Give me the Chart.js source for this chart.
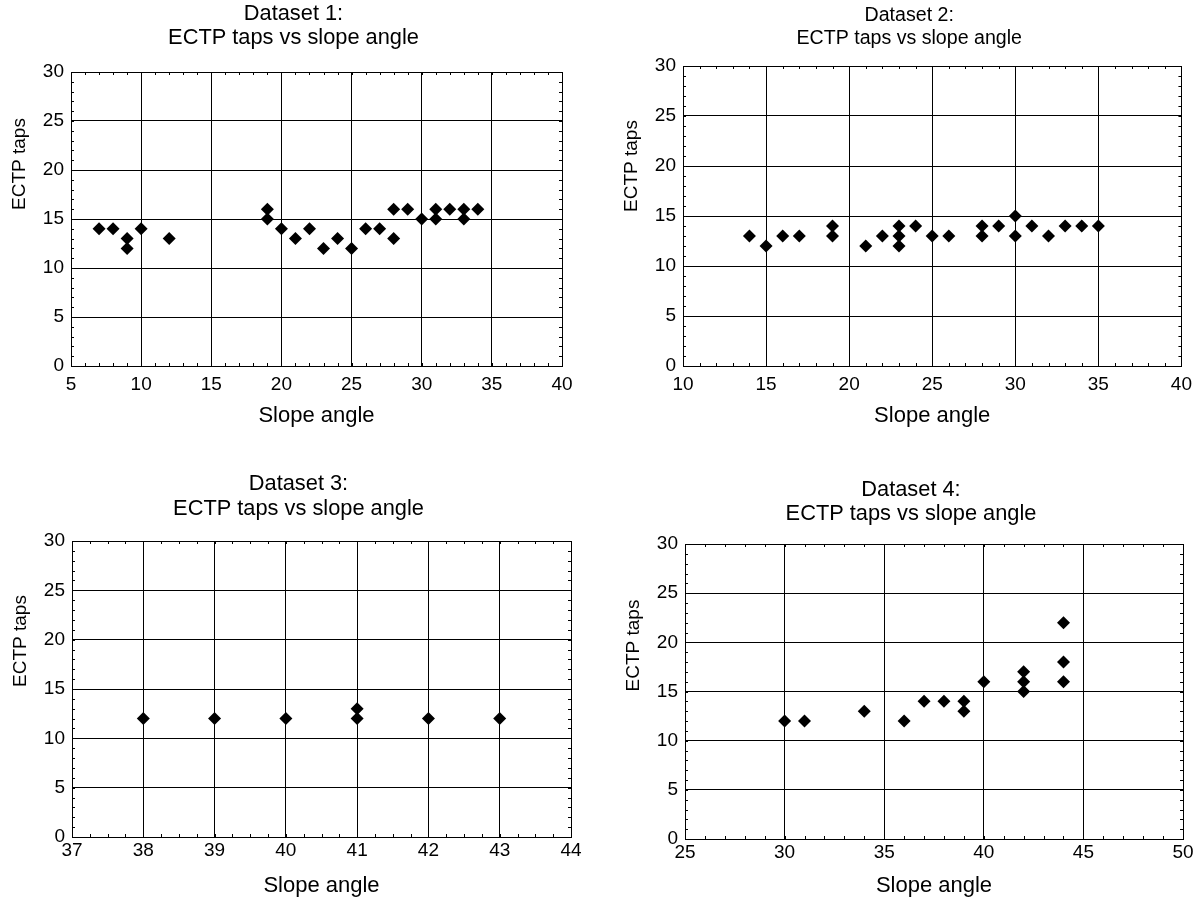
<!DOCTYPE html>
<html><head><meta charset="utf-8">
<script src="https://cdn.jsdelivr.net/npm/chart.js@4.4.0/dist/chart.umd.min.js"></script>
<style>
html,body{margin:0;padding:0;background:#fff;}
#wrap{position:relative;width:1199px;height:903px;overflow:hidden;background:#fff;}
canvas{position:absolute;}
</style></head><body><div id="wrap">
<canvas id="c1"></canvas><canvas id="c2"></canvas><canvas id="c3"></canvas><canvas id="c4"></canvas>
</div>
<script>
// ---- data ----
const ds1Angle = [7,8,9,9,10,12,19,19,20,21,22,23,24,25,26,27,28,28,29,30,31,31,32,33,33,34];
const ds1Taps  = [14,14,13,12,14,13,16,15,14,13,14,12,13,12,14,14,16,13,16,15,16,15,16,16,15,16];
const ds2Angle = [14,15,16,17,19,19,21,22,23,23,23,24,25,26,28,28,29,30,30,31,32,33,34,35];
const ds2Taps  = [13,12,13,13,14,13,12,13,14,13,12,14,13,13,14,13,14,15,13,14,13,14,14,14];
const ds3Angle = [38,39,40,41,41,42,43];
const ds3Taps  = [12,12,12,13,12,12,12];
const ds4Angle = [30,31,34,36,37,38,39,39,40,42,42,42,44,44,44];
const ds4Taps  = [12,12,13,12,14,14,14,13,16,17,16,15,22,18,16];

const titleLine1 = ['Dataset 1:','Dataset 2:','Dataset 3:','Dataset 4:'];
const titleLine2 = 'ECTP taps vs slope angle';
const xAxisTitle = 'Slope angle';
const yAxisTitle = 'ECTP taps';

const xTicks1 = [5,10,15,20,25,30,35,40];
const xTicks2 = [10,15,20,25,30,35,40];
const xTicks3 = [37,38,39,40,41,42,43,44];
const xTicks4 = [25,30,35,40,45,50];
const yTicks  = [0,5,10,15,20,25,30];

// ---- layout / style ----
const FONT = '"Liberation Sans", Arial, Helvetica, sans-serif';
Chart.defaults.font.family = FONT;
Chart.defaults.color = '#000';

const layouts = [
  {id:'c1', left:0,   top:0,   w:600, h:451, area:[71,72,562,366],   xMinor:1,    titleSize:21.8, titleDy:[-58,-34], xTickPad:7, xTitlePad:22, yTitleDy:-55},
  {id:'c2', left:600, top:0,   w:599, h:451, area:[683,66,1183,366], xMinor:1,    titleSize:19.6, titleDy:[-50,-27], xTickPad:7, xTitlePad:22, yTitleDy:-50},
  {id:'c3', left:0,   top:451, w:600, h:452, area:[72,541,571,837],  xMinor:0.25, titleSize:21.8, titleDy:[-57,-32], xTickPad:2, xTitlePad:4,  yTitleDy:-48},
  {id:'c4', left:600, top:451, w:599, h:452, area:[685,544,1183,839],xMinor:1,    titleSize:21.8, titleDy:[-54,-30], xTickPad:2, xTitlePad:4,  yTitleDy:-46}
];

const decor = {
  id:'decor',
  afterDraw(chart, args, o) {
    const {ctx, chartArea:a} = chart;
    const x = chart.scales.x, y = chart.scales.y;
    ctx.save();
    ctx.strokeStyle = '#000'; ctx.lineWidth = 1;
    ctx.beginPath();
    const nx = Math.round((x.max - x.min) / o.xMinor);
    for (let i = 0; i <= nx; i++) {
      const px = Math.round(x.getPixelForValue(x.min + i * o.xMinor)) + 0.5;
      ctx.moveTo(px, a.bottom); ctx.lineTo(px, a.bottom - 3);
      ctx.moveTo(px, a.top); ctx.lineTo(px, a.top + 3);
    }
    const ny = Math.round((y.max - y.min) / o.yMinor);
    for (let i = 0; i <= ny; i++) {
      const py = Math.round(y.getPixelForValue(y.min + i * o.yMinor)) + 0.5;
      ctx.moveTo(a.left, py); ctx.lineTo(a.left + 3, py);
      ctx.moveTo(a.right, py); ctx.lineTo(a.right - 3, py);
    }
    ctx.stroke();
    ctx.fillStyle = '#000'; ctx.textAlign = 'center'; ctx.textBaseline = 'middle';
    ctx.font = o.titleSize + 'px ' + FONT;
    const cx = (a.left + a.right) / 2 - 23;
    ctx.fillText(o.title[0], cx, a.top + o.titleDy[0]);
    ctx.fillText(o.title[1], cx, a.top + o.titleDy[1]);
    ctx.translate(a.left - 51, (a.top + a.bottom) / 2 + o.yTitleDy);
    ctx.rotate(-Math.PI / 2);
    ctx.font = '19px ' + FONT;
    ctx.fillText(yAxisTitle, 0, 0);
    ctx.restore();
  }
};

function makeChart(idx, xs, ys, xTicks) {
  const L = layouts[idx];
  const cv = document.getElementById(L.id);
  cv.style.left = L.left + 'px'; cv.style.top = L.top + 'px';
  cv.width = L.w; cv.height = L.h;
  cv.style.width = L.w + 'px'; cv.style.height = L.h + 'px';
  const [al, at, ar, ab] = L.area;
  return new Chart(cv, {
    type: 'scatter',
    data: { datasets: [{
      data: xs.map((v, i) => ({x: v, y: ys[i]})),
      pointStyle: 'rectRot', pointRadius: 6.5, pointHoverRadius: 6.5,
      backgroundColor: '#000', borderColor: '#000', borderWidth: 0
    }]},
    options: {
      responsive: false, animation: false, events: [],
      layout: { padding: { left: 0, top: at - L.top, right: L.left + L.w - ar, bottom: 0 } },
      plugins: {
        legend: { display: false }, tooltip: { enabled: false },
        decor: { xMinor: L.xMinor, yMinor: 1, titleSize: L.titleSize, titleDy: L.titleDy,
                 title: [titleLine1[idx], titleLine2], yTitleDy: L.yTitleDy }
      },
      scales: {
        x: {
          type: 'linear', position: 'bottom',
          min: xTicks[0], max: xTicks[xTicks.length - 1],
          afterBuildTicks: s => { s.ticks = xTicks.map(v => ({value: v})); },
          afterFit: s => { s.height = L.top + L.h - ab; },
          grid: { color: '#000', lineWidth: 1, drawTicks: false },
          border: { display: true, color: '#000', width: 1 },
          ticks: { color: '#000', font: { size: 19 }, padding: L.xTickPad, maxRotation: 0, autoSkip: false },
          title: { display: true, text: xAxisTitle, color: '#000', font: { size: 22 }, padding: { top: 0, bottom: L.xTitlePad } }
        },
        y: {
          type: 'linear', position: 'left',
          min: yTicks[0], max: yTicks[yTicks.length - 1],
          afterBuildTicks: s => { s.ticks = yTicks.map(v => ({value: v})); },
          afterFit: s => { s.width = al - L.left; },
          grid: { color: '#000', lineWidth: 1, drawTicks: false },
          border: { display: true, color: '#000', width: 1 },
          ticks: { color: '#000', font: { size: 19 }, padding: 7, autoSkip: false }
        }
      }
    },
    plugins: [decor]
  });
}

makeChart(0, ds1Angle, ds1Taps, xTicks1);
makeChart(1, ds2Angle, ds2Taps, xTicks2);
makeChart(2, ds3Angle, ds3Taps, xTicks3);
makeChart(3, ds4Angle, ds4Taps, xTicks4);
</script>
</body></html>
